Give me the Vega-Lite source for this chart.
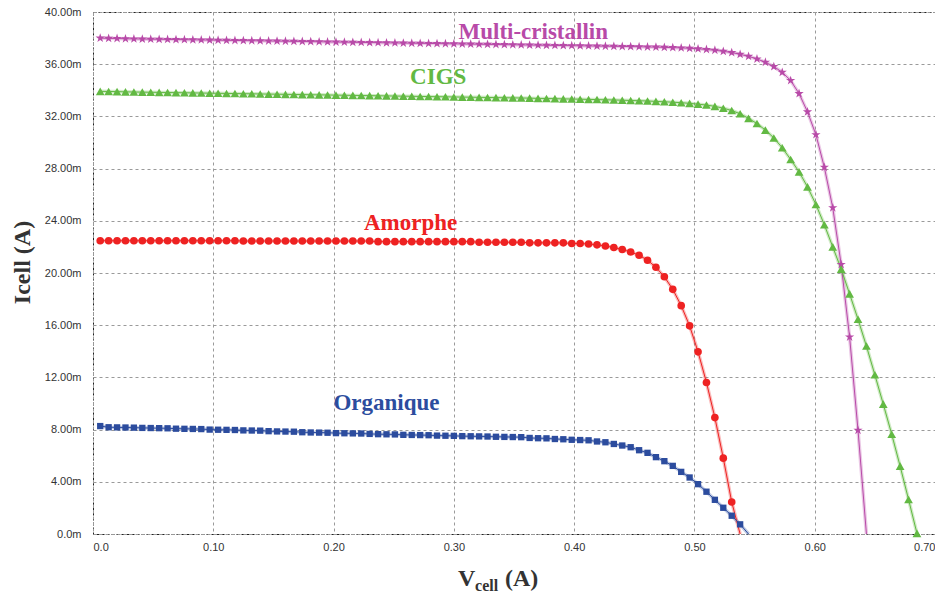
{
  "$schema": "https://vega.github.io/schema/vega-lite/v6.json",
  "width": 842,
  "height": 522,
  "autosize": {"type": "none"},
  "padding": {"left": 93, "top": 12, "right": 0, "bottom": 61},
  "background": "white",
  "config": {
    "view": {"stroke": "#222222", "strokeDash": [3, 2], "strokeWidth": 1},
    "axis": {
      "domain": false,
      "ticks": false,
      "grid": true,
      "gridColor": "#9a9a9a",
      "gridDash": [3, 3],
      "gridWidth": 1,
      "labelFont": "Liberation Sans",
      "labelFontSize": 11,
      "labelColor": "#333333"
    }
  },
  "datasets": {
    "iv": [
      {"V":0.006,"Multi-cristallin":38.00,"CIGS":33.92,"Amorphe":22.47,"Organique":8.27},
      {"V":0.013,"Multi-cristallin":37.98,"CIGS":33.91,"Amorphe":22.47,"Organique":8.18},
      {"V":0.020,"Multi-cristallin":37.97,"CIGS":33.90,"Amorphe":22.47,"Organique":8.17},
      {"V":0.027,"Multi-cristallin":37.95,"CIGS":33.88,"Amorphe":22.47,"Organique":8.16},
      {"V":0.034,"Multi-cristallin":37.94,"CIGS":33.87,"Amorphe":22.47,"Organique":8.15},
      {"V":0.041,"Multi-cristallin":37.93,"CIGS":33.86,"Amorphe":22.47,"Organique":8.13},
      {"V":0.048,"Multi-cristallin":37.92,"CIGS":33.85,"Amorphe":22.47,"Organique":8.12},
      {"V":0.055,"Multi-cristallin":37.91,"CIGS":33.84,"Amorphe":22.47,"Organique":8.11},
      {"V":0.062,"Multi-cristallin":37.90,"CIGS":33.83,"Amorphe":22.47,"Organique":8.10},
      {"V":0.069,"Multi-cristallin":37.89,"CIGS":33.82,"Amorphe":22.47,"Organique":8.07},
      {"V":0.076,"Multi-cristallin":37.88,"CIGS":33.81,"Amorphe":22.47,"Organique":8.06},
      {"V":0.083,"Multi-cristallin":37.87,"CIGS":33.80,"Amorphe":22.47,"Organique":8.05},
      {"V":0.090,"Multi-cristallin":37.86,"CIGS":33.79,"Amorphe":22.47,"Organique":8.04},
      {"V":0.097,"Multi-cristallin":37.85,"CIGS":33.78,"Amorphe":22.47,"Organique":8.00},
      {"V":0.104,"Multi-cristallin":37.84,"CIGS":33.77,"Amorphe":22.47,"Organique":7.99},
      {"V":0.111,"Multi-cristallin":37.83,"CIGS":33.76,"Amorphe":22.47,"Organique":7.98},
      {"V":0.118,"Multi-cristallin":37.82,"CIGS":33.75,"Amorphe":22.47,"Organique":7.97},
      {"V":0.125,"Multi-cristallin":37.81,"CIGS":33.74,"Amorphe":22.45,"Organique":7.94},
      {"V":0.132,"Multi-cristallin":37.80,"CIGS":33.73,"Amorphe":22.45,"Organique":7.93},
      {"V":0.139,"Multi-cristallin":37.79,"CIGS":33.72,"Amorphe":22.45,"Organique":7.92},
      {"V":0.146,"Multi-cristallin":37.78,"CIGS":33.71,"Amorphe":22.45,"Organique":7.88},
      {"V":0.153,"Multi-cristallin":37.77,"CIGS":33.70,"Amorphe":22.45,"Organique":7.86},
      {"V":0.160,"Multi-cristallin":37.76,"CIGS":33.69,"Amorphe":22.45,"Organique":7.85},
      {"V":0.167,"Multi-cristallin":37.75,"CIGS":33.68,"Amorphe":22.45,"Organique":7.84},
      {"V":0.174,"Multi-cristallin":37.74,"CIGS":33.67,"Amorphe":22.45,"Organique":7.80},
      {"V":0.181,"Multi-cristallin":37.73,"CIGS":33.66,"Amorphe":22.45,"Organique":7.78},
      {"V":0.188,"Multi-cristallin":37.72,"CIGS":33.65,"Amorphe":22.45,"Organique":7.77},
      {"V":0.195,"Multi-cristallin":37.71,"CIGS":33.64,"Amorphe":22.45,"Organique":7.76},
      {"V":0.202,"Multi-cristallin":37.70,"CIGS":33.63,"Amorphe":22.45,"Organique":7.73},
      {"V":0.209,"Multi-cristallin":37.69,"CIGS":33.62,"Amorphe":22.45,"Organique":7.72},
      {"V":0.216,"Multi-cristallin":37.68,"CIGS":33.61,"Amorphe":22.45,"Organique":7.71},
      {"V":0.223,"Multi-cristallin":37.67,"CIGS":33.60,"Amorphe":22.45,"Organique":7.70},
      {"V":0.230,"Multi-cristallin":37.66,"CIGS":33.59,"Amorphe":22.45,"Organique":7.67},
      {"V":0.237,"Multi-cristallin":37.65,"CIGS":33.58,"Amorphe":22.40,"Organique":7.65},
      {"V":0.244,"Multi-cristallin":37.64,"CIGS":33.57,"Amorphe":22.40,"Organique":7.64},
      {"V":0.251,"Multi-cristallin":37.63,"CIGS":33.56,"Amorphe":22.40,"Organique":7.63},
      {"V":0.258,"Multi-cristallin":37.62,"CIGS":33.55,"Amorphe":22.40,"Organique":7.60},
      {"V":0.265,"Multi-cristallin":37.61,"CIGS":33.54,"Amorphe":22.40,"Organique":7.59},
      {"V":0.272,"Multi-cristallin":37.60,"CIGS":33.53,"Amorphe":22.40,"Organique":7.58},
      {"V":0.279,"Multi-cristallin":37.59,"CIGS":33.52,"Amorphe":22.40,"Organique":7.57},
      {"V":0.286,"Multi-cristallin":37.58,"CIGS":33.51,"Amorphe":22.40,"Organique":7.54},
      {"V":0.293,"Multi-cristallin":37.57,"CIGS":33.50,"Amorphe":22.40,"Organique":7.53},
      {"V":0.300,"Multi-cristallin":37.56,"CIGS":33.49,"Amorphe":22.40,"Organique":7.52},
      {"V":0.307,"Multi-cristallin":37.55,"CIGS":33.48,"Amorphe":22.40,"Organique":7.50},
      {"V":0.314,"Multi-cristallin":37.54,"CIGS":33.47,"Amorphe":22.40,"Organique":7.49},
      {"V":0.321,"Multi-cristallin":37.53,"CIGS":33.46,"Amorphe":22.36,"Organique":7.48},
      {"V":0.328,"Multi-cristallin":37.52,"CIGS":33.45,"Amorphe":22.36,"Organique":7.47},
      {"V":0.335,"Multi-cristallin":37.51,"CIGS":33.44,"Amorphe":22.36,"Organique":7.45},
      {"V":0.342,"Multi-cristallin":37.50,"CIGS":33.43,"Amorphe":22.36,"Organique":7.44},
      {"V":0.349,"Multi-cristallin":37.49,"CIGS":33.42,"Amorphe":22.36,"Organique":7.43},
      {"V":0.356,"Multi-cristallin":37.48,"CIGS":33.41,"Amorphe":22.36,"Organique":7.42},
      {"V":0.363,"Multi-cristallin":37.47,"CIGS":33.40,"Amorphe":22.31,"Organique":7.36},
      {"V":0.370,"Multi-cristallin":37.46,"CIGS":33.38,"Amorphe":22.31,"Organique":7.34},
      {"V":0.377,"Multi-cristallin":37.45,"CIGS":33.37,"Amorphe":22.31,"Organique":7.33},
      {"V":0.384,"Multi-cristallin":37.44,"CIGS":33.36,"Amorphe":22.31,"Organique":7.28},
      {"V":0.391,"Multi-cristallin":37.43,"CIGS":33.34,"Amorphe":22.31,"Organique":7.26},
      {"V":0.398,"Multi-cristallin":37.42,"CIGS":33.33,"Amorphe":22.26,"Organique":7.22},
      {"V":0.405,"Multi-cristallin":37.41,"CIGS":33.32,"Amorphe":22.26,"Organique":7.20},
      {"V":0.412,"Multi-cristallin":37.40,"CIGS":33.30,"Amorphe":22.22,"Organique":7.18},
      {"V":0.419,"Multi-cristallin":37.39,"CIGS":33.29,"Amorphe":22.16,"Organique":7.09},
      {"V":0.426,"Multi-cristallin":37.38,"CIGS":33.27,"Amorphe":22.07,"Organique":7.03},
      {"V":0.433,"Multi-cristallin":37.37,"CIGS":33.26,"Amorphe":21.95,"Organique":6.90},
      {"V":0.440,"Multi-cristallin":37.36,"CIGS":33.24,"Amorphe":21.80,"Organique":6.78},
      {"V":0.447,"Multi-cristallin":37.35,"CIGS":33.22,"Amorphe":21.61,"Organique":6.65},
      {"V":0.454,"Multi-cristallin":37.34,"CIGS":33.20,"Amorphe":21.36,"Organique":6.42},
      {"V":0.461,"Multi-cristallin":37.32,"CIGS":33.18,"Amorphe":20.98,"Organique":6.22},
      {"V":0.468,"Multi-cristallin":37.31,"CIGS":33.15,"Amorphe":20.44,"Organique":5.89},
      {"V":0.475,"Multi-cristallin":37.29,"CIGS":33.12,"Amorphe":19.71,"Organique":5.58},
      {"V":0.482,"Multi-cristallin":37.27,"CIGS":33.09,"Amorphe":18.75,"Organique":5.22},
      {"V":0.489,"Multi-cristallin":37.25,"CIGS":33.05,"Amorphe":17.50,"Organique":4.76},
      {"V":0.496,"Multi-cristallin":37.22,"CIGS":33.00,"Amorphe":15.95,"Organique":4.33},
      {"V":0.503,"Multi-cristallin":37.18,"CIGS":32.94,"Amorphe":13.96,"Organique":3.82},
      {"V":0.510,"Multi-cristallin":37.13,"CIGS":32.87,"Amorphe":11.61,"Organique":3.24},
      {"V":0.517,"Multi-cristallin":37.07,"CIGS":32.77,"Amorphe":8.92,"Organique":2.62},
      {"V":0.524,"Multi-cristallin":36.99,"CIGS":32.63,"Amorphe":5.81,"Organique":2.01},
      {"V":0.531,"Multi-cristallin":36.89,"CIGS":32.45,"Amorphe":2.45,"Organique":1.40},
      {"V":0.538,"Multi-cristallin":36.76,"CIGS":32.20,"Amorphe":0,"Organique":0.74},
      {"V":0.545,"Multi-cristallin":36.60,"CIGS":31.85,"Organique":0},
      {"V":0.552,"Multi-cristallin":36.40,"CIGS":31.45},
      {"V":0.559,"Multi-cristallin":36.15,"CIGS":30.95},
      {"V":0.566,"Multi-cristallin":35.82,"CIGS":30.35},
      {"V":0.573,"Multi-cristallin":35.38,"CIGS":29.60},
      {"V":0.580,"Multi-cristallin":34.75,"CIGS":28.70},
      {"V":0.587,"Multi-cristallin":33.75,"CIGS":27.75},
      {"V":0.594,"Multi-cristallin":32.35,"CIGS":26.60},
      {"V":0.601,"Multi-cristallin":30.60,"CIGS":25.25},
      {"V":0.608,"Multi-cristallin":28.10,"CIGS":23.70},
      {"V":0.615,"Multi-cristallin":25.00,"CIGS":22.00},
      {"V":0.622,"Multi-cristallin":20.65,"CIGS":20.30},
      {"V":0.629,"Multi-cristallin":15.10,"CIGS":18.40},
      {"V":0.636,"Multi-cristallin":7.95,"CIGS":16.45},
      {"V":0.643,"Multi-cristallin":0,"CIGS":14.40},
      {"V":0.650,"CIGS":12.20},
      {"V":0.657,"CIGS":9.95},
      {"V":0.664,"CIGS":7.65},
      {"V":0.671,"CIGS":5.20},
      {"V":0.678,"CIGS":2.65},
      {"V":0.685,"CIGS":0.05}
    ],
    "labels": [
      {"c":"Multi-cristallin","V":0.366,"I":38.47},
      {"c":"CIGS","V":0.287,"I":35.02},
      {"c":"Amorphe","V":0.264,"I":23.83},
      {"c":"Organique","V":0.244,"I":10.04}
    ],
    "xtitle_big": [
      {"t":"V","V":0.3034,"I":-3.45},
      {"t":"(A)","V":0.3425,"I":-3.45}
    ],
    "xtitle_small": [
      {"t":"cell","V":0.3176,"I":-3.98}
    ]
  },
  "layer": [
    {
      "data": {"name": "iv"},
      "transform": [
        {"fold": ["Multi-cristallin", "CIGS", "Amorphe", "Organique"], "as": ["c", "I"]},
        {"filter": "isValid(datum.I)"}
      ],
      "mark": {"type": "line", "strokeWidth": 3.5, "opacity": 0.3},
      "encoding": {
        "x": {"field": "V", "type": "quantitative", "scale": {"domain": [0, 0.7], "nice": false, "zero": true},
          "axis": {"title": null, "values": [0, 0.1, 0.2, 0.3, 0.4, 0.5, 0.6, 0.7], "labelPadding": 7,
            "labelExpr": "datum.value == 0 ? '0.0' : format(datum.value, '.2f')"}},
        "y": {"field": "I", "type": "quantitative", "scale": {"domain": [0, 40], "nice": false},
          "axis": {"title": "Icell (A)", "values": [0, 4, 8, 12, 16, 20, 24, 28, 32, 36, 40], "labelPadding": 12,
            "labelExpr": "datum.value == 0 ? '0.0m' : format(datum.value, '.2f') + 'm'",
            "titleFont": "Liberation Serif", "titleFontWeight": "bold", "titleFontSize": 24, "titleColor": "#333333",
            "titleAngle": -90, "titleX": -71, "titleY": 250, "titleAlign": "center", "titleBaseline": "middle"}},
        "color": {"field": "c", "type": "nominal", "legend": null,
          "scale": {"domain": ["Multi-cristallin", "CIGS", "Amorphe", "Organique"],
            "range": ["#b84aa8", "#62b943", "#ee2222", "#2c4c9e"]}},
        "detail": {"field": "c"}
      }
    },
    {
      "data": {"name": "iv"},
      "transform": [
        {"fold": ["Multi-cristallin", "CIGS", "Amorphe", "Organique"], "as": ["c", "I"]},
        {"filter": "isValid(datum.I)"}
      ],
      "mark": {"type": "line", "strokeWidth": 1},
      "encoding": {
        "x": {"field": "V", "type": "quantitative"},
        "y": {"field": "I", "type": "quantitative"},
        "color": {"field": "c", "type": "nominal", "legend": null}
      }
    },
    {
      "data": {"name": "iv"},
      "transform": [
        {"fold": ["Multi-cristallin", "CIGS", "Amorphe", "Organique"], "as": ["c", "I"]},
        {"filter": "isValid(datum.I) && datum.I > 0"}
      ],
      "mark": {"type": "point", "filled": true, "opacity": 1},
      "encoding": {
        "x": {"field": "V", "type": "quantitative"},
        "y": {"field": "I", "type": "quantitative"},
        "color": {"field": "c", "type": "nominal", "legend": null},
        "shape": {"field": "c", "type": "nominal", "legend": null,
          "scale": {"domain": ["Multi-cristallin", "CIGS", "Amorphe", "Organique"],
            "range": ["M0,-1L0.224,-0.309L0.951,-0.309L0.363,0.118L0.588,0.809L0,0.382L-0.588,0.809L-0.363,0.118L-0.951,-0.309L-0.224,-0.309Z", "triangle-up", "circle", "square"]}},
        "size": {"field": "c", "type": "nominal", "legend": null,
          "scale": {"domain": ["Multi-cristallin", "CIGS", "Amorphe", "Organique"], "range": [95, 40, 22, 26]}}
      }
    },
    {
      "data": {"name": "labels"},
      "mark": {"type": "text", "font": "Liberation Serif", "fontWeight": "bold", "fontSize": 23, "align": "center", "baseline": "middle"},
      "encoding": {
        "x": {"field": "V", "type": "quantitative"},
        "y": {"field": "I", "type": "quantitative"},
        "text": {"field": "c"},
        "color": {"field": "c", "type": "nominal", "legend": null}
      }
    },
    {
      "data": {"name": "xtitle_big"},
      "mark": {"type": "text", "font": "Liberation Serif", "fontWeight": "bold", "fontSize": 24, "align": "left", "baseline": "middle", "color": "#333333"},
      "encoding": {
        "x": {"field": "V", "type": "quantitative"},
        "y": {"field": "I", "type": "quantitative"},
        "text": {"field": "t"}
      }
    },
    {
      "data": {"name": "xtitle_small"},
      "mark": {"type": "text", "font": "Liberation Serif", "fontWeight": "bold", "fontSize": 16, "align": "left", "baseline": "middle", "color": "#333333"},
      "encoding": {
        "x": {"field": "V", "type": "quantitative"},
        "y": {"field": "I", "type": "quantitative"},
        "text": {"field": "t"}
      }
    }
  ]
}
